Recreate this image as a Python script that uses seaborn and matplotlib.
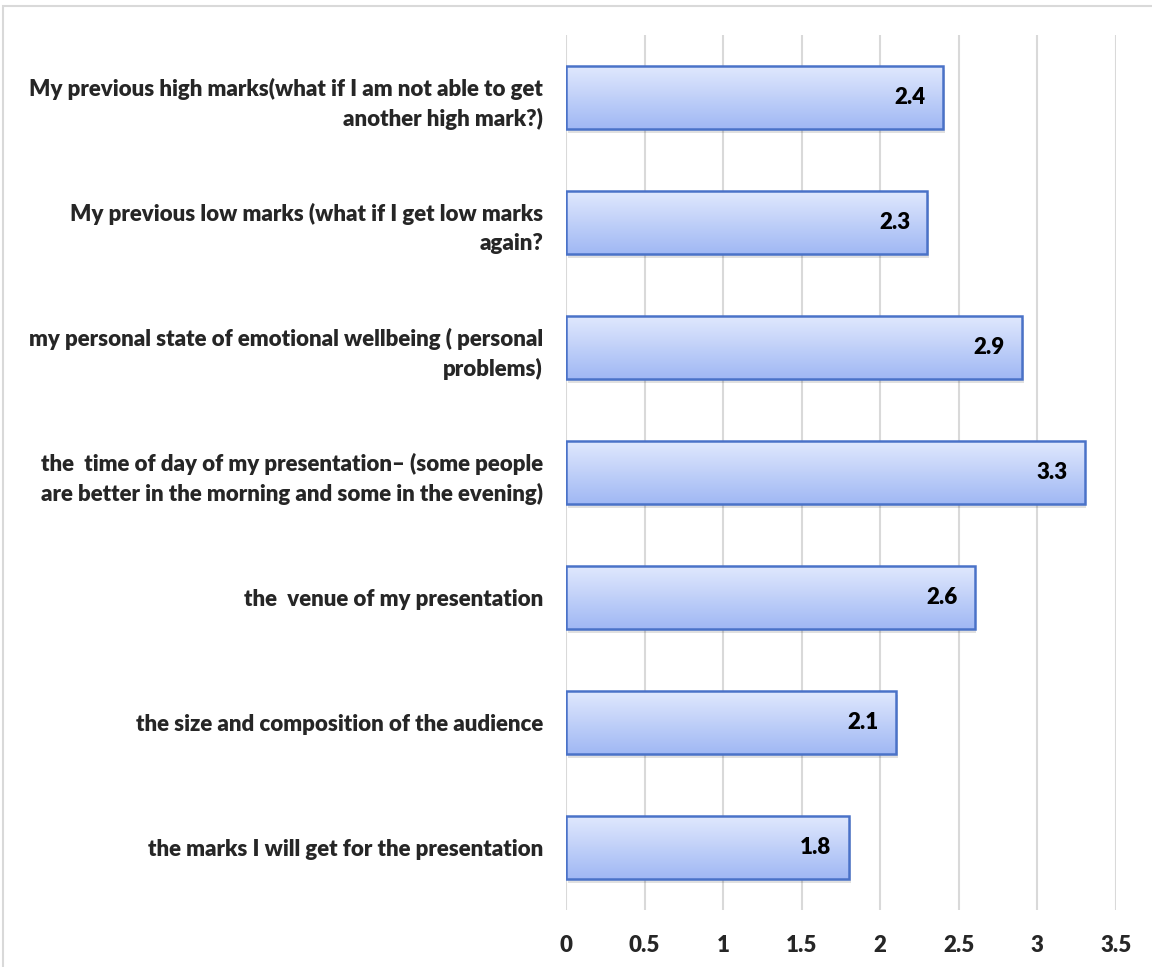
import numpy as np
import pandas as pd
import seaborn as sns
import matplotlib.pyplot as plt
from matplotlib.patches import Rectangle

categories = [
    "My previous high marks(what if I am not able to get\nanother high mark?)",
    "My previous low marks (what if I get low marks\nagain?",
    "my personal state of emotional wellbeing ( personal\nproblems)",
    "the  time of day of my presentation\u2013 (some people\nare better in the morning and some in the evening)",
    "the  venue of my presentation",
    "the size and composition of the audience",
    "the marks I will get for the presentation",
]
values = [2.4, 2.3, 2.9, 3.3, 2.6, 2.1, 1.8]
x_ticks = [0, 0.5, 1, 1.5, 2, 2.5, 3, 3.5]

df = pd.DataFrame({"factor": categories, "score": values})

sns.set_theme(style="white")
plt.rcParams["font.family"] = ["Lato", "DejaVu Sans"]

fig = plt.figure(figsize=(11.52, 9.67), dpi=100)
ax = fig.add_axes([566 / 1152, 1 - 910 / 967, (1116 - 566) / 1152, (910 - 35) / 967])

# outer chart border
fig.patches.append(Rectangle((3 / 1152, -0.1), 1.2, 1 - 6 / 967 + 0.1,
                             transform=fig.transFigure, fill=False,
                             edgecolor="#d9d9d9", linewidth=1.5, zorder=0))

sns.barplot(data=df, x="score", y="factor", orient="h", width=0.5,
            color="#c5d3f7", edgecolor="#4a72c8", linewidth=1.8, ax=ax, zorder=3)

# vertical gradient inside each bar (light top -> darker blue bottom)
grad = np.linspace(0, 1, 64).reshape(-1, 1)
cmap = sns.blend_palette(["#e0e8fd", "#a0b8f4"], as_cmap=True)
bars = list(ax.patches)
for p in bars:
    x0, y0 = p.get_x(), p.get_y()
    w, h = p.get_width(), p.get_height()
    # soft shadow
    ax.add_patch(Rectangle((x0 + 0.012, y0 + 0.03), w, h, facecolor="#000000",
                           alpha=0.12, edgecolor="none", zorder=2))
    im = ax.imshow(grad, cmap=cmap, aspect="auto", extent=[x0, x0 + w, y0 + h, y0],
                   zorder=3.5, origin="upper")
    im.set_clip_path(p)
    p.set_facecolor("none")
    p.set_zorder(4)

for p, v in zip(bars, values):
    ax.text(p.get_x() + p.get_width() - 0.11, p.get_y() + p.get_height() / 2, f"{v}",
            ha="right", va="center", fontsize=16, fontweight="heavy", color="black", zorder=5)

ax.set_xlim(0, 3.5)
ax.set_ylim(6.5, -0.5)
ax.set_xticks(x_ticks)
ax.set_xticklabels([f"{t:g}" for t in x_ticks])
ax.grid(axis="x", color="#d9d9d9", linewidth=1.5, zorder=0)
ax.grid(axis="y", visible=False)
ax.set_axisbelow(True)
for s in ax.spines.values():
    s.set_visible(False)
ax.set_xlabel("")
ax.set_ylabel("")
ax.tick_params(axis="both", length=0, labelsize=16)
ax.tick_params(axis="x", pad=18)
ax.tick_params(axis="y", pad=16.5)
for lab in ax.get_xticklabels() + ax.get_yticklabels():
    lab.set_fontweight("heavy")
for lab in ax.get_yticklabels():
    lab.set_multialignment("right")
    lab.set_linespacing(1.45)

fig.savefig("out.png", dpi=100)
